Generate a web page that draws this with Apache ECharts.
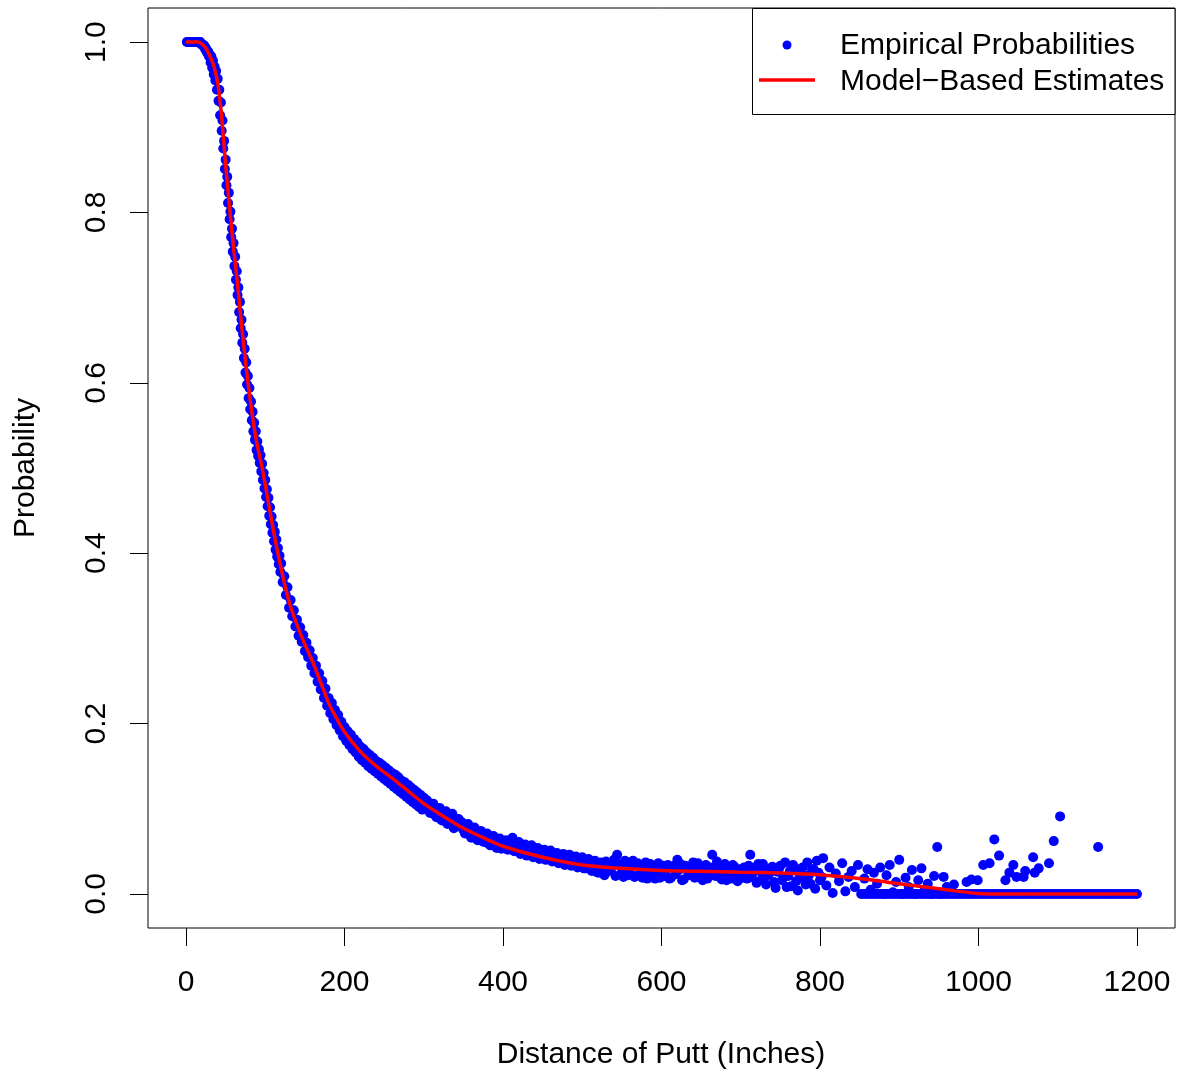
<!DOCTYPE html>
<html><head><meta charset="utf-8">
<script src="https://cdn.jsdelivr.net/npm/echarts@6/dist/echarts.min.js"></script>
<style>html,body{margin:0;padding:0;background:#fff}#c{width:1177px;height:1073px}</style>
</head><body><div id="c"></div><script>
// ---------- data ----------
// Empirical probabilities, distances 1..120 (every inch)
const steepStart = 1, steepStep = 1;
const probSteep = [
1,1,1,1,1,1,1,1,1,1,
1,1,1,1,1,1,0.999,1,0.998,0.997,
0.997,0.995,0.996,0.992,0.993,0.989,0.987,0.989,0.983,0.985,
0.976,0.983,0.970,0.978,0.962,0.971,0.955,0.966,0.944,0.957,
0.931,0.944,0.914,0.929,0.896,0.908,0.875,0.884,0.851,0.862,
0.832,0.842,0.811,0.823,0.792,0.801,0.771,0.781,0.754,0.764,
0.737,0.748,0.721,0.731,0.703,0.712,0.683,0.695,0.664,0.674,
0.647,0.657,0.629,0.640,0.612,0.624,0.598,0.608,0.582,0.594,
0.569,0.578,0.556,0.566,0.543,0.553,0.533,0.543,0.521,0.531,
0.514,0.522,0.506,0.515,0.496,0.505,0.486,0.494,0.476,0.486,
0.466,0.475,0.455,0.465,0.444,0.454,0.434,0.443,0.424,0.433,
0.414,0.425,0.404,0.416,0.396,0.406,0.387,0.397,0.378,0.388
];
// distances 122..300 (every 2 inches)
const midStart = 122, midStep = 2;
const probMid = [
0.366,0.373,0.351,0.360,0.336,0.345,0.326,0.333,0.314,0.322,
0.303,0.313,0.296,0.304,0.285,0.295,0.278,0.286,0.268,0.277,
0.259,0.268,0.249,0.259,0.240,0.250,0.230,0.241,0.221,0.230,
0.212,0.224,0.205,0.216,0.198,0.210,0.192,0.202,0.185,0.196,
0.180,0.191,0.175,0.187,0.170,0.182,0.166,0.178,0.161,0.173,
0.157,0.170,0.154,0.166,0.150,0.163,0.147,0.160,0.144,0.156,
0.141,0.154,0.138,0.151,0.135,0.148,0.132,0.145,0.129,0.142,
0.126,0.140,0.123,0.137,0.120,0.133,0.117,0.131,0.114,0.128,
0.111,0.125,0.108,0.122,0.105,0.119,0.102,0.116,0.099,0.113
];
// distances 304..800 (every 4 inches)
const tailAStart = 304, tailAStep = 4;
const probTailA = [
0.110,0.095,0.106,0.090,0.101,0.086,0.097,0.083,0.094,0.079,0.088,0.084,0.071,0.082,0.066,0.078,0.063,0.074,0.061,0.071,0.057,0.068,0.054,0.065,0.061,
0.063,0.058,0.066,0.055,0.061,0.053,0.058,0.050,0.057,0.049,0.054,0.046,0.052,0.045,0.051,0.042,0.048,0.041,0.047,0.038,0.046,0.037,0.044,0.035,0.043,
0.030,0.041,0.027,0.039,0.025,0.037,0.022,0.036,0.028,0.040,0.046,0.033,0.020,0.035,0.024,0.039,0.021,0.034,0.019,0.037,0.023,0.033,0.018,0.036,0.024,
0.021,0.034,0.019,0.033,0.040,0.035,0.017,0.032,0.022,0.037,0.020,0.031,0.016,0.034,0.023,0.046,0.021,0.033,0.017,0.035,0.024,0.018,0.032,0.015,0.029,
0.031,0.018,0.046,0.030,0.013,0.027,0.035,0.011,0.024,0.032,0.007,0.029,0.016,0.037,0.021,0.009,0.031,0.004,0.026,0.019,0.037,0.012,0.029,0.039,0.016
];
// distances 306..802 (every 4 inches)
const tailBStart = 306, tailBStep = 4;
const probTailB = [
0.098,0.104,0.093,0.099,0.087,0.095,0.082,0.091,0.077,0.087,0.080,0.075,0.079,0.069,0.076,0.065,0.072,0.062,0.069,0.059,0.066,0.057,0.063,0.053,0.058,
0.052,0.061,0.050,0.059,0.047,0.057,0.045,0.055,0.043,0.052,0.041,0.050,0.040,0.049,0.038,0.046,0.036,0.045,0.034,0.043,0.033,0.041,0.031,0.039,0.030,
0.038,0.029,0.036,0.026,0.034,0.024,0.038,0.027,0.033,0.021,0.035,0.025,0.039,0.022,0.033,0.020,0.036,0.023,0.031,0.018,0.035,0.022,0.030,0.019,0.033,
0.029,0.018,0.031,0.023,0.028,0.016,0.033,0.024,0.030,0.019,0.036,0.022,0.029,0.018,0.031,0.025,0.038,0.020,0.028,0.016,0.030,0.034,0.021,0.027,0.019,
0.024,0.033,0.020,0.027,0.035,0.017,0.028,0.022,0.030,0.014,0.026,0.033,0.020,0.008,0.027,0.034,0.015,0.024,0.031,0.011,0.022,0.029,0.006,0.025,0.020
];
// distances 804..960 (every 4 inches)
const farStart = 804, farStep = 4;
const probFar = [
0.042,0.010,0.031,0.001,0.024,0.015,0.036,0.003,0.020,0.027,0.008,0.034,0.000,0.018,0.029,0.005,0.025,0.012,0.031,0.000,
0.022,0.034,0.002,0.014,0.040,0.000,0.019,0.008,0.028,0.000,0.016,0.030,0.004,0.012,0.000,0.021,0.055,0.000,0.020,0.008
];
// distances 856..1200 (every 4 inches): the band of zero estimates
const zeroStart = 856, zeroStep = 4;
const probZero = [
0,0,0,0,0,0,0,0,0,0,0,0,0,0,0,0,0,0,0,0,0,0,0,0,0,0,0,0,0,0,
0,0,0,0,0,0,0,0,0,0,0,0,0,0,0,0,0,0,0,0,0,0,0,0,0,0,0,0,0,0,
0,0,0,0,0,0,0,0,0,0,0,0,0,0,0,0,0,0,0,0,0,0,0,0,0,0,0
];
// scattered long-distance points
const outlierDist = [969,985,991,999,1006,1014,1020,1026,1034,1039,1044,1048,1057,1059,1069,1071,1076,1089,1095,1103,1151];
const outlierProb = [0.011,0.014,0.017,0.016,0.034,0.036,0.064,0.045,0.016,0.025,0.034,0.020,0.020,0.027,0.043,0.025,0.030,0.036,0.062,0.091,0.055];

// Model-based estimates
const modelDist = [0,5,10,15,20,25,30,35,40,45,50,55,60,65,70,75,80,85,90,95,100,110,120,130,140,150,160,170,180,190,200,220,240,260,280,300,325,350,375,400,450,500,550,600,650,700,750,800,850,900,925,950,975,1000,1025,1050,1100,1150,1200];
const modelProb = [1.000,1.000,1.000,1.000,0.998,0.993,0.984,0.972,0.952,0.912,0.855,0.805,0.758,0.716,0.668,0.625,0.587,0.553,0.526,0.505,0.480,0.428,0.382,0.343,0.316,0.293,0.272,0.248,0.224,0.206,0.190,0.167,0.150,0.136,0.121,0.106,0.091,0.077,0.066,0.056,0.043,0.034,0.030,0.0275,0.0265,0.0255,0.0245,0.0225,0.018,0.012,0.009,0.006,0.003,0.0005,0,0,0,0,0];

const xTicks = [0,200,400,600,800,1000,1200];
const yTicks = [0,0.2,0.4,0.6,0.8,1.0];

// ---------- build ----------
function seg(start, step, vals){ return vals.map((v,i)=>[start+i*step, v]); }
const empirical = [].concat(
  seg(steepStart, steepStep, probSteep),
  seg(midStart, midStep, probMid),
  seg(tailAStart, tailAStep, probTailA),
  seg(tailBStart, tailBStep, probTailB),
  seg(farStart, farStep, probFar),
  seg(zeroStart, zeroStep, probZero),
  outlierDist.map((d,i)=>[d, outlierProb[i]])
);
const model = modelDist.map((d,i)=>[d, modelProb[i]]);

const FONT = '"Liberation Sans", Arial, Helvetica, sans-serif';
const chart = echarts.init(document.getElementById('c'), null, {renderer:'canvas'});
chart.setOption({
  animation:false,
  backgroundColor:'#fff',
  grid:{left:148, right:2, top:8, bottom:145, show:true, borderColor:'#000', borderWidth:1, backgroundColor:'transparent'},
  xAxis:{
    type:'value', min:-48, max:1248,
    axisLine:{show:false, onZero:false},
    splitLine:{show:false},
    axisTick:{show:true, customValues:xTicks, length:18, lineStyle:{color:'#000', width:1}},
    axisLabel:{customValues:xTicks, margin:40, color:'#000', fontSize:30, fontFamily:FONT,
      formatter:v=>String(v)}
  },
  yAxis:{
    type:'value', min:-0.04, max:1.04,
    axisLine:{show:false, onZero:false},
    splitLine:{show:false},
    axisTick:{show:true, customValues:yTicks, length:18, lineStyle:{color:'#000', width:1}},
    axisLabel:{customValues:yTicks, rotate:90, margin:36, color:'#000', fontSize:30, fontFamily:FONT,
      formatter:v=>Number(v).toFixed(1)}
  },
  series:[
    {type:'scatter', data:empirical, symbol:'circle', symbolSize:10, itemStyle:{color:'#0000FF', opacity:1}, silent:true, z:2},
    {type:'line', data:model, showSymbol:false, smooth:0.2, lineStyle:{color:'#FF0000', width:3.5}, silent:true, z:3}
  ],
  graphic:[
    {type:'rect', z:10, shape:{x:752.5, y:8.5, width:422.5, height:106}, style:{fill:'#fff', stroke:'#000', lineWidth:1}},
    {type:'circle', z:11, shape:{cx:787, cy:45, r:4.5}, style:{fill:'#0000FF'}},
    {type:'line', z:11, shape:{x1:759, y1:80, x2:815, y2:80}, style:{stroke:'#FF0000', lineWidth:3.5}},
    {type:'text', z:11, x:840, y:46, style:{text:'Empirical Probabilities', font:'30px '+FONT, fill:'#000', textAlign:'left', textVerticalAlign:'middle'}},
    {type:'text', z:11, x:840, y:82, style:{text:'Model\u2212Based Estimates', font:'30px '+FONT, fill:'#000', textAlign:'left', textVerticalAlign:'middle'}},
    {type:'text', z:11, x:661, y:1055, style:{text:'Distance of Putt (Inches)', font:'30px '+FONT, fill:'#000', textAlign:'center', textVerticalAlign:'middle'}},
    {type:'text', z:11, x:26, y:468, rotation:Math.PI/2, style:{text:'Probability', font:'30px '+FONT, fill:'#000', textAlign:'center', textVerticalAlign:'middle'}}
  ]
});
</script></body></html>
